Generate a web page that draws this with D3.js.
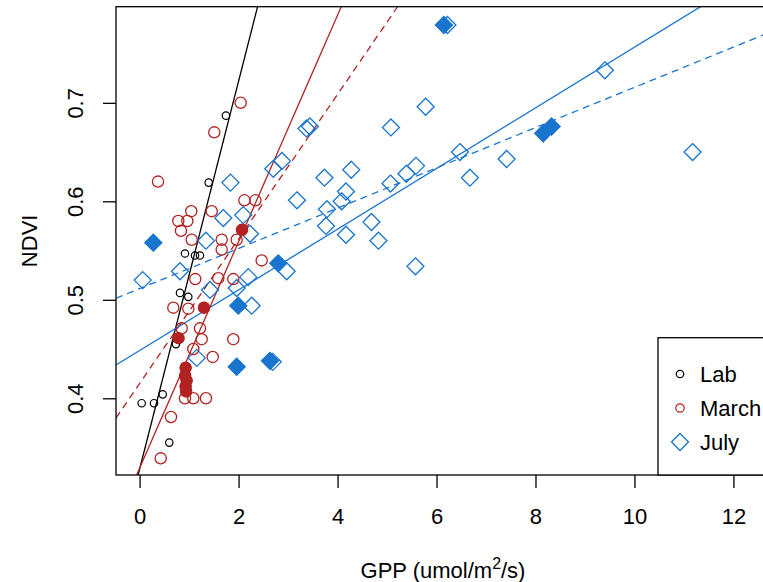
<!DOCTYPE html>
<html>
<head>
<meta charset="utf-8">
<script src="https://cdn.jsdelivr.net/npm/d3@7"></script>
<style>
  html, body { margin: 0; padding: 0; background: #fff; }
  svg { display: block; font-family: "Liberation Sans", Arial, sans-serif; }
</style>
</head>
<body>
<svg id="chart" width="763" height="582"></svg>
<script>
// GPP (umol/m2/s) vs NDVI for lab, March and July measurements
const labGPP  = [1.745, 1.396, 0.917, 1.119, 1.220, 0.816, 0.984, 0.735, 0.467, 0.291, 0.042, 0.600];
const labNDVI = [0.687, 0.619, 0.547, 0.545, 0.545, 0.507, 0.503, 0.455, 0.404, 0.395, 0.395, 0.355];

const marchGPP  = [2.042, 1.509, 0.372, 2.117, 2.341, 1.044, 1.457, 0.782, 0.964, 0.836,
                   1.053, 1.659, 1.962, 1.659, 2.069, 2.467, 1.125, 1.590, 1.893, 0.681,
                   0.984, 1.301, 0.851, 1.220, 1.255, 1.893, 1.085, 1.477, 0.786, 0.917,
                   1.085, 1.341, 0.634, 0.426, 0.930, 0.920, 0.950, 0.930, 0.940];
const marchNDVI = [0.700, 0.670, 0.620, 0.601, 0.601, 0.590, 0.590, 0.580, 0.580, 0.570,
                   0.561, 0.561, 0.561, 0.551, 0.571, 0.540, 0.521, 0.522, 0.521, 0.492,
                   0.491, 0.492, 0.471, 0.471, 0.460, 0.460, 0.450, 0.442, 0.461, 0.400,
                   0.400, 0.400, 0.381, 0.339, 0.431, 0.423, 0.418, 0.412, 0.407];
// March plots shown with solid symbols
const marchSolidGPP  = [2.069, 1.301, 0.786, 0.930, 0.920, 0.950, 0.930, 0.940];
const marchSolidNDVI = [0.571, 0.492, 0.461, 0.431, 0.423, 0.418, 0.412, 0.407];

const julyGPP  = [0.063, 0.277, 0.816, 1.341, 1.154, 1.422, 1.691, 1.836, 1.962, 1.994,
                  2.095, 2.196, 2.230, 2.265, 1.962, 2.634, 2.690, 2.701, 2.877, 2.802,
                  2.972, 3.180, 3.372, 3.442, 3.735, 4.277, 4.170, 4.083, 3.786, 3.766,
                  4.170, 4.685, 4.826, 5.069, 5.392, 5.584, 5.079, 5.780, 5.574, 6.149,
                  6.220, 6.473, 6.675, 7.416, 8.156, 8.325, 9.402, 11.174];
const julyNDVI = [0.520, 0.558, 0.529, 0.560, 0.441, 0.510, 0.583, 0.619, 0.512, 0.494,
                  0.586, 0.523, 0.567, 0.494, 0.432, 0.438, 0.437, 0.633, 0.641, 0.537,
                  0.529, 0.601, 0.674, 0.676, 0.624, 0.632, 0.610, 0.600, 0.592, 0.575,
                  0.566, 0.579, 0.560, 0.618, 0.628, 0.636, 0.675, 0.696, 0.534, 0.779,
                  0.779, 0.650, 0.624, 0.643, 0.669, 0.676, 0.733, 0.650];
// July plots shown with solid symbols
const julySolidGPP  = [0.277, 1.994, 1.962, 2.634, 2.802, 6.149, 8.156, 8.325];
const julySolidNDVI = [0.558, 0.494, 0.432, 0.438, 0.537, 0.779, 0.669, 0.676];

// Linear fits NDVI = a + b * GPP
const fitNames      = ["Lab", "March", "March (solid)", "July", "July (solid)"];
const fitIntercepts = [0.328, 0.329, 0.415, 0.4485, 0.5113];
const fitSlopes     = [0.197, 0.115, 0.0734, 0.0308, 0.02044];

const xTicks = [0, 2, 4, 6, 8, 10, 12];
const yTicks = [0.4, 0.5, 0.6, 0.7];
const legendLabels = ["Lab", "March", "July"];

// ---- styling ----
const BLACK = "#000000", RED = "#B22222", BLUE = "#1874CD";
const fitStyles = [
  { color: BLACK, dash: null },
  { color: RED,   dash: null },
  { color: RED,   dash: "7,5" },
  { color: BLUE,  dash: null },
  { color: BLUE,  dash: "7,5" }
];
const FONT = 22;

const svg = d3.select("#chart");
const plot = { left: 116, right: 775, top: 6.7, bottom: 475 };

const x = d3.scaleLinear().domain([-0.477, 12.84]).range([plot.left, plot.right]);
const y = d3.scaleLinear().domain([0.3221, 0.7976]).range([plot.bottom, plot.top]);

svg.append("defs").append("clipPath").attr("id", "plotClip")
  .append("rect")
  .attr("x", plot.left).attr("y", plot.top)
  .attr("width", plot.right - plot.left).attr("height", plot.bottom - plot.top);

const inner = svg.append("g").attr("clip-path", "url(#plotClip)");

// regression lines
const [x0, x1] = x.domain();
fitIntercepts.forEach((a, i) => {
  const b = fitSlopes[i];
  inner.append("line")
    .attr("class", "fit")
    .attr("x1", x(x0)).attr("y1", y(a + b * x0))
    .attr("x2", x(x1)).attr("y2", y(a + b * x1))
    .attr("stroke", fitStyles[i].color)
    .attr("stroke-width", 1.3)
    .attr("stroke-dasharray", fitStyles[i].dash);
});

function zip(xs, ys) { return xs.map((v, i) => [v, ys[i]]); }
const diamond = r => `M0,${-r}L${r},0L0,${r}L${-r},0Z`;

// July open diamonds
inner.append("g").selectAll("path").data(zip(julyGPP, julyNDVI)).join("path")
  .attr("transform", d => `translate(${x(d[0])},${y(d[1])})`)
  .attr("d", diamond(8.5))
  .attr("fill", "none").attr("stroke", BLUE).attr("stroke-width", 1.3);

// March open circles
inner.append("g").selectAll("circle").data(zip(marchGPP, marchNDVI)).join("circle")
  .attr("cx", d => x(d[0])).attr("cy", d => y(d[1])).attr("r", 5.6)
  .attr("fill", "none").attr("stroke", RED).attr("stroke-width", 1.3);

// Lab open circles
inner.append("g").selectAll("circle").data(zip(labGPP, labNDVI)).join("circle")
  .attr("cx", d => x(d[0])).attr("cy", d => y(d[1])).attr("r", 3.7)
  .attr("fill", "none").attr("stroke", BLACK).attr("stroke-width", 1.2);

// solid symbols
inner.append("g").selectAll("path").data(zip(julySolidGPP, julySolidNDVI)).join("path")
  .attr("transform", d => `translate(${x(d[0])},${y(d[1])})`)
  .attr("d", diamond(8.3))
  .attr("fill", BLUE).attr("stroke", BLUE).attr("stroke-width", 0.6);

inner.append("g").selectAll("circle").data(zip(marchSolidGPP, marchSolidNDVI)).join("circle")
  .attr("cx", d => x(d[0])).attr("cy", d => y(d[1])).attr("r", 5.8)
  .attr("fill", RED);

// axes
const xAxis = svg.append("g")
  .attr("transform", `translate(0,${plot.bottom})`)
  .call(d3.axisBottom(x).tickValues(xTicks).tickFormat(d3.format("d")).tickSize(13).tickPadding(20));
xAxis.select(".domain").remove();
xAxis.selectAll("line").attr("stroke", "#000").attr("stroke-width", 1.3);
xAxis.selectAll("text").attr("font-size", FONT).attr("fill", "#000")
  .attr("font-family", "Liberation Sans, Arial, sans-serif");

const yAxis = svg.append("g")
  .attr("transform", `translate(${plot.left},0)`)
  .call(d3.axisLeft(y).tickValues(yTicks).tickFormat(d3.format(".1f")).tickSize(13));
yAxis.select(".domain").remove();
yAxis.selectAll("line").attr("stroke", "#000").attr("stroke-width", 1.3);
yAxis.selectAll("text")
  .attr("x", null).attr("dy", null)
  .attr("font-size", FONT).attr("fill", "#000")
  .attr("font-family", "Liberation Sans, Arial, sans-serif")
  .attr("text-anchor", "middle")
  .attr("transform", "translate(-33,0) rotate(-90)");

// plot frame
svg.append("rect")
  .attr("x", plot.left).attr("y", plot.top)
  .attr("width", plot.right - plot.left).attr("height", plot.bottom - plot.top)
  .attr("fill", "none").attr("stroke", "#000").attr("stroke-width", 1.3);

// axis titles
const xTitle = svg.append("text")
  .attr("x", 443).attr("y", 578)
  .attr("text-anchor", "middle").attr("font-size", FONT).attr("fill", "#000");
xTitle.append("tspan").text("GPP (umol/m");
xTitle.append("tspan").attr("font-size", FONT * 0.72).attr("dy", -9).text("2");
xTitle.append("tspan").attr("dy", 9).text("/s)");

svg.append("text")
  .attr("transform", `translate(37,${(plot.top + plot.bottom) / 2}) rotate(-90)`)
  .attr("text-anchor", "middle").attr("font-size", FONT).attr("fill", "#000")
  .text("NDVI");

// legend
const legend = svg.append("g");
legend.append("rect")
  .attr("x", 658).attr("y", 337.7)
  .attr("width", 130).attr("height", plot.bottom - 337.7)
  .attr("fill", "#fff").attr("stroke", "#000").attr("stroke-width", 1.3);
const legendY = [374, 408, 442];
legendLabels.forEach((lab, i) => {
  const cy = legendY[i];
  if (i === 0) {
    legend.append("circle").attr("cx", 680).attr("cy", cy).attr("r", 3.7)
      .attr("fill", "none").attr("stroke", BLACK).attr("stroke-width", 1.2);
  } else if (i === 1) {
    legend.append("circle").attr("cx", 680).attr("cy", cy).attr("r", 4.2)
      .attr("fill", "none").attr("stroke", RED).attr("stroke-width", 1.2);
  } else {
    legend.append("path").attr("transform", `translate(680,${cy})`).attr("d", diamond(8.5))
      .attr("fill", "none").attr("stroke", BLUE).attr("stroke-width", 1.3);
  }
  legend.append("text").attr("x", 700).attr("y", cy + 8)
    .attr("font-size", FONT).attr("fill", "#000").text(lab);
});
</script>
</body>
</html>
